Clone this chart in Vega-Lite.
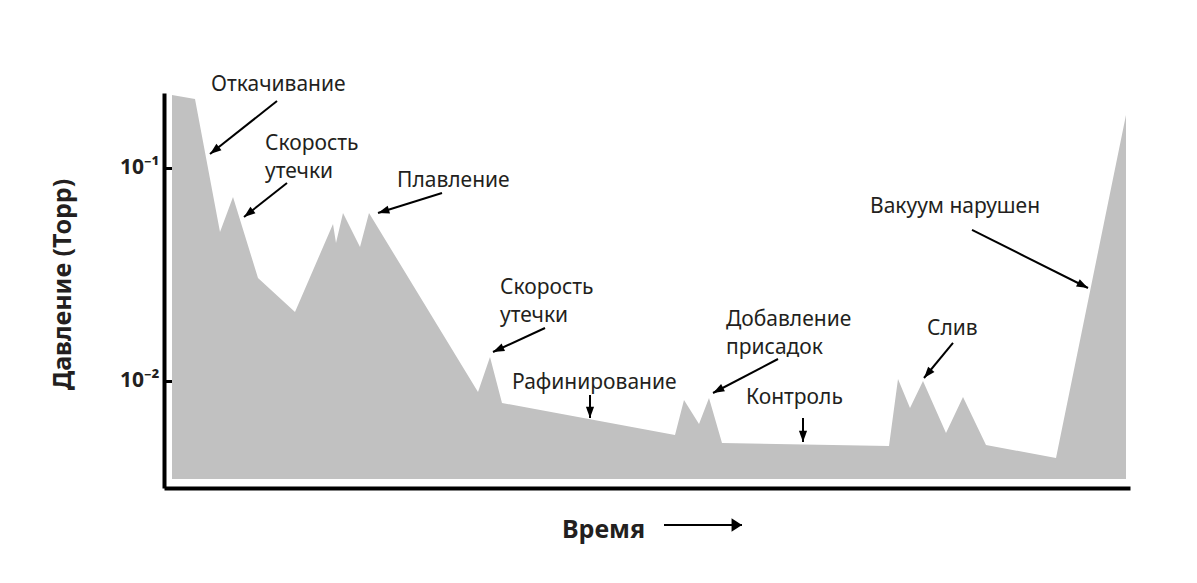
{
  "$schema": "https://vega.github.io/schema/vega-lite/v6.json",
  "autosize": {"type": "none"},
  "padding": {"left": 164, "top": 93, "right": 67, "bottom": 95},
  "width": 966,
  "height": 395,
  "background": "white",
  "config": {"view": {"stroke": null}},
  "datasets": {
    "pressure": [
      {"t": 8, "p": 0.22012},
      {"t": 31, "p": 0.21085},
      {"t": 56, "p": 0.050061},
      {"t": 69, "p": 0.073079},
      {"t": 94, "p": 0.030449},
      {"t": 131, "p": 0.021085},
      {"t": 169, "p": 0.0546},
      {"t": 172, "p": 0.04445},
      {"t": 179, "p": 0.061478},
      {"t": 196, "p": 0.042566},
      {"t": 205, "p": 0.061478},
      {"t": 314, "p": 0.008879},
      {"t": 326, "p": 0.012966},
      {"t": 338, "p": 0.007882},
      {"t": 511, "p": 0.005579},
      {"t": 520, "p": 0.008143},
      {"t": 535, "p": 0.006283},
      {"t": 545, "p": 0.008321},
      {"t": 558, "p": 0.005116},
      {"t": 725, "p": 0.004952},
      {"t": 734, "p": 0.010219},
      {"t": 746, "p": 0.007467},
      {"t": 759, "p": 0.01},
      {"t": 782, "p": 0.005701},
      {"t": 799, "p": 0.008411},
      {"t": 822, "p": 0.005006},
      {"t": 892, "p": 0.004351},
      {"t": 962, "p": 0.17741}
    ],
    "labels": [
      {"t": 47, "p": 0.22986, "lbl": "Откачивание"},
      {"t": 101, "p": 0.12149, "lbl": "Скорость"},
      {"t": 101, "p": 0.08976, "lbl": "утечки"},
      {"t": 233, "p": 0.08143, "lbl": "Плавление"},
      {"t": 336, "p": 0.025613, "lbl": "Скорость"},
      {"t": 336, "p": 0.018923, "lbl": "утечки"},
      {"t": 348, "p": 0.009172, "lbl": "Рафинирование"},
      {"t": 562, "p": 0.018123, "lbl": "Добавление"},
      {"t": 562, "p": 0.013389, "lbl": "присадок"},
      {"t": 582, "p": 0.007798, "lbl": "Контроль"},
      {"t": 706, "p": 0.061478, "lbl": "Вакуум нарушен"},
      {"t": 763, "p": 0.016443, "lbl": "Слив"}
    ],
    "arrows": [
      {"t": 113, "p": 0.20632, "t2": 46, "p2": 0.11634, "dir": 232, "kind": "note"},
      {"t": 123, "p": 0.08503, "t2": 80, "p2": 0.05888, "dir": 232, "kind": "note"},
      {"t": 278, "p": 0.07631, "t2": 214, "p2": 0.061478, "dir": 253, "kind": "note"},
      {"t": 381, "p": 0.017737, "t2": 329, "p2": 0.013682, "dir": 245, "kind": "note"},
      {"t": 426, "p": 0.008596, "t2": 426, "p2": 0.006704, "dir": 180, "kind": "note"},
      {"t": 614, "p": 0.012686, "t2": 549, "p2": 0.008784, "dir": 242, "kind": "note"},
      {"t": 639, "p": 0.006704, "t2": 639, "p2": 0.005171, "dir": 180, "kind": "note"},
      {"t": 808, "p": 0.05117, "t2": 924, "p2": 0.027328, "dir": 117, "kind": "note"},
      {"t": 789, "p": 0.015082, "t2": 760, "p2": 0.010329, "dir": 220, "kind": "note"},
      {"t": 500, "p": 0.0021087, "t2": 578, "p2": 0.0021087, "dir": 90, "kind": "time"}
    ]
  },
  "layer": [
    {
      "data": {"name": "pressure"},
      "mark": {"type": "area", "color": "#c1c1c1", "interpolate": "linear"},
      "encoding": {
        "x": {
          "field": "t", "type": "quantitative",
          "scale": {"domain": [0, 966], "nice": false, "zero": false},
          "axis": {
            "domainWidth": 4, "domainColor": "#000", "ticks": false, "labels": false, "grid": false,
            "title": "Время", "titleFont": "Noto Sans", "titleFontSize": 25, "titleFontWeight": "bold",
            "titleColor": "#231f20", "titleX": 439, "titleY": 49, "titleAlign": "center", "titleBaseline": "alphabetic"
          }
        },
        "y": {
          "field": "p", "type": "quantitative",
          "scale": {"type": "log", "domain": [0.0031452, 0.22496], "nice": false},
          "axis": {
            "values": [0.1, 0.01],
            "labelExpr": "datum.value > 0.05 ? '10⁻¹' : '10⁻²'",
            "domainWidth": 4, "domainColor": "#000", "tickColor": "#000", "tickWidth": 3, "tickSize": -9,
            "labelPadding": 14, "grid": false, "labelFont": "Noto Sans", "labelFontWeight": "bold",
            "labelFontSize": 21, "labelColor": "#231f20",
            "title": "Давление (Торр)", "titleFont": "Noto Sans", "titleFontSize": 25, "titleFontWeight": "bold",
            "titleColor": "#231f20", "titleX": -94, "titleY": 191, "titleAngle": -90, "titleAlign": "center",
            "titleBaseline": "alphabetic"
          }
        },
        "y2": {"datum": 0.0034666}
      }
    },
    {
      "data": {"name": "arrows"},
      "mark": {"type": "rule", "color": "#000", "strokeWidth": 2},
      "encoding": {
        "x": {"field": "t", "type": "quantitative"},
        "y": {"field": "p", "type": "quantitative"},
        "x2": {"field": "t2"},
        "y2": {"field": "p2"}
      }
    },
    {
      "data": {"name": "arrows"},
      "transform": [{"filter": "datum.kind == 'note'"}],
      "mark": {"type": "point", "filled": true, "shape": "M0,0L0.45,1.25L-0.45,1.25Z", "size": 330, "color": "#000", "opacity": 1, "strokeWidth": 0},
      "encoding": {
        "x": {"field": "t2", "type": "quantitative"},
        "y": {"field": "p2", "type": "quantitative"},
        "angle": {"field": "dir", "type": "quantitative", "scale": null}
      }
    },
    {
      "data": {"name": "arrows"},
      "transform": [{"filter": "datum.kind == 'time'"}],
      "mark": {"type": "point", "filled": true, "shape": "M0,0L0.75,1.15L-0.75,1.15Z", "size": 330, "color": "#000", "opacity": 1, "strokeWidth": 0},
      "encoding": {
        "x": {"field": "t2", "type": "quantitative"},
        "y": {"field": "p2", "type": "quantitative"},
        "angle": {"field": "dir", "type": "quantitative", "scale": null}
      }
    },
    {
      "data": {"name": "labels"},
      "mark": {"type": "text", "align": "left", "baseline": "alphabetic", "font": "Noto Sans", "fontSize": 21, "color": "#231f20"},
      "encoding": {
        "x": {"field": "t", "type": "quantitative"},
        "y": {"field": "p", "type": "quantitative"},
        "text": {"field": "lbl"}
      }
    }
  ]
}
